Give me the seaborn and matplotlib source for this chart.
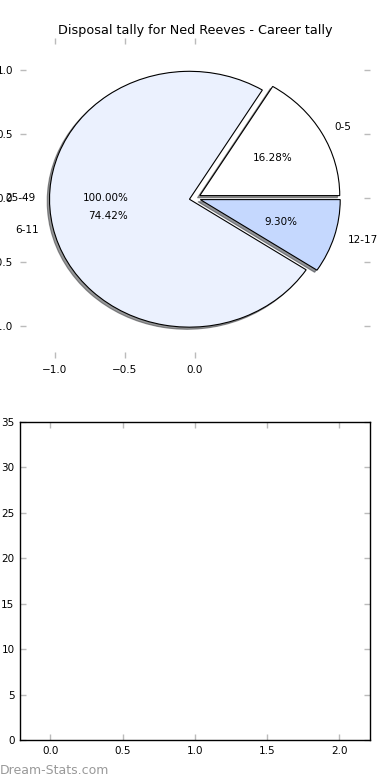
import matplotlib
matplotlib.use('Agg')
import matplotlib.pyplot as plt
import seaborn as sns

# Datos del gráfico
categorias = ['0-5', '6-11', '12-17']
conteos = [7, 32, 4]
explode = [0.04, 0.04, 0.04]
colores = ['#ffffff', '#ebf1fe', '#c5d8fe']

total_label = ['25-49']
total = [sum(conteos)]

pie_xticks = [-1.0, -0.5, 0.0]
pie_yticks = [-1.0, -0.5, 0.0, 0.5, 1.0]
bar_xticks = [0.0, 0.5, 1.0, 1.5, 2.0]
bar_yticks = [0, 5, 10, 15, 20, 25, 30, 35]

sns.set_theme(style='white', rc={'text.color': 'black',
                                 'xtick.labelcolor': 'black',
                                 'ytick.labelcolor': 'black'})
plt.rcParams['font.family'] = ['DejaVu Sans']

fig = plt.figure(figsize=(3.9, 7.8), dpi=100)
ax1 = fig.add_axes([0.0513, 0.541, 0.897, 0.410])
ax2 = fig.add_axes([0.0513, 0.0513, 0.897, 0.408])

# Pie principal
ax1.pie(conteos, labels=categorias, explode=explode, colors=colores,
        autopct='%1.2f%%', shadow=dict(ox=-0.012, oy=-0.012, shade=0.8),
        startangle=0, counterclock=True,
        wedgeprops=dict(edgecolor='black', linewidth=0.8),
        textprops=dict(fontsize=7.5, color='black'))
# Pie del total (solo textos)
ax1.pie(total, labels=total_label, explode=[0.04], autopct='%1.2f%%',
        wedgeprops=dict(facecolor='none', edgecolor='none'),
        textprops=dict(fontsize=7.5, color='black'))
ax1.set_aspect('auto')
ax1.set_frame_on(False)
ax1.set_xlim(-1.25, 1.25)
ax1.set_ylim(-1.25, 1.25)
ax1.set_xticks(pie_xticks)
ax1.set_yticks(pie_yticks)
ax1.set_xticklabels(['\u22121.0', '\u22120.5', '0.0'])
ax1.set_yticklabels(['\u22121.0', '\u22120.5', '0.0', '0.5', '1.0'])
ax1.tick_params(axis='both', which='both', direction='in', length=4, width=1,
                color='#bbbbbb', labelcolor='black', labelsize=7.5,
                top=True, right=True, bottom=True, left=True, pad=5)
ax1.set_title('Disposal tally for Ned Reeves - Career tally', fontsize=9.2,
              pad=3, color='black')

# Eje inferior vacío
ax2.set_xlim(-0.21, 2.21)
ax2.set_ylim(0, 35)
ax2.set_xticks(bar_xticks)
ax2.set_yticks(bar_yticks)
for s in ax2.spines.values():
    s.set_visible(True)
    s.set_color('black')
    s.set_linewidth(1)
ax2.tick_params(axis='both', which='both', direction='in', length=4, width=1,
                color='#bbbbbb', labelcolor='black', labelsize=7.5,
                top=True, right=True, bottom=True, left=True, pad=4)

fig.text(0.0, 0.004, 'Dream-Stats.com', fontsize=9,
         color='#999999', ha='left', va='bottom')

fig.savefig('out.png', dpi=100)
